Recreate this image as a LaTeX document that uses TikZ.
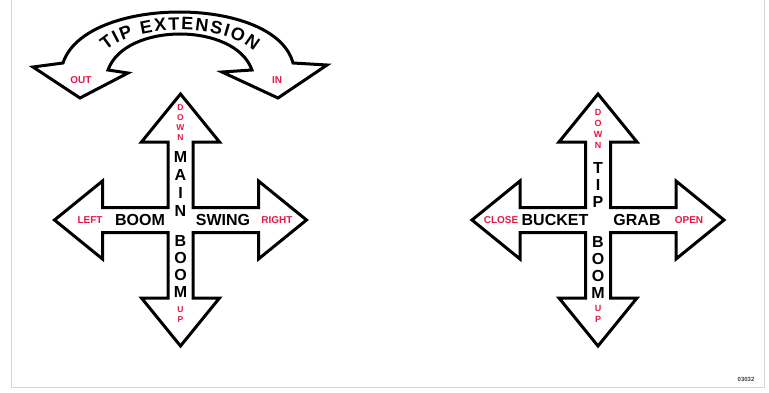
\documentclass[tikz,border=0pt]{standalone}
\usepackage{fontspec}
\setmainfont{Liberation Sans}
\usetikzlibrary{decorations.text}
\definecolor{rossolab}{RGB}{228,24,70}
\definecolor{bordo}{RGB}{215,215,215}

\begin{document}
\begin{tikzpicture}[x=1pt,y=1pt,
        freccia/.style={line width=3pt, line join=miter, miter limit=10, fill=white},
        etirossa/.style={text=rossolab, font=\bfseries\fontsize{10}{12}\selectfont, inner sep=0pt},
        etinera/.style={font=\bfseries\fontsize{16}{18}\selectfont, inner sep=0pt},
        pilarossa/.style={align=center, inner sep=0pt, text=rossolab, font=\bfseries\fontsize{8.5}{10}\selectfont},
        pilanera/.style={align=center, inner sep=0pt, font=\bfseries\fontsize{16}{17}\selectfont}]
        \useasboundingbox (0,0) rectangle (769,392);
        %cornice
        \draw[bordo, line width=0.8pt] (11,392) -- (11,5) -- (764,5) -- (764,392);
        %frecce a croce
        \foreach \cx in {180.5,598}
            \draw[freccia] (\cx,298) --++ (39,-48) --++ (-26.5,0) --++ (0,-65.5) --++ (65.5,0) --++ (0,26.5) --++ (48,-39) --++ (-48,-39) --++ (0,26.5) --++ (-65.5,0) --++ (0,-65.5) --++ (26.5,0) --++ (-39,-48) --++ (-39,48) --++ (26.5,0) --++ (0,65.5) --++ (-65.5,0) --++ (0,-26.5) --++ (-48,39) --++ (48,39) --++ (0,-26.5) --++ (65.5,0) --++ (0,65.5) --++ (-26.5,0) -- cycle;
        %freccia ad arco
        \draw[freccia] (33,325) -- (80,294) -- (128,319) -- (108,322) .. controls (125,370) and (235,370) .. (252,322) -- (222,320) -- (278,294) -- (327,327) -- (293,329) .. controls (275,397) and (85,397) .. (63,329) -- cycle;
        \path[decorate, decoration={text along path, text align=fit to path, text={|\bfseries\fontsize{18}{20}\selectfont|TIP EXTENSION}}] (106,341) .. controls (136,369) and (224,369) .. (254,341);
        \node[etirossa] (out) at (81,312) {OUT};
        \node[etirossa] (in) at (277,312) {IN};
        %croce sinistra
        \node[pilarossa] (giu1) at (180.5,269.5) {D\\O\\W\\N};
        \node[pilanera, font=\bfseries\fontsize{16}{18}\selectfont] (main) at (180.5,208.5) {M\\A\\I\\N};
        \node[pilanera] (boom1) at (180.5,126) {B\\O\\O\\M};
        \node[pilarossa] (su1) at (180.5,77) {U\\P};
        \node[etirossa] (left) at (90,172) {LEFT};
        \node[etinera] (boom2) at (140,172) {BOOM};
        \node[etinera] (swing) at (223,172) {SWING};
        \node[etirossa] (right) at (277,172) {RIGHT};
        %croce destra
        \node[pilarossa, font=\bfseries\fontsize{9}{11}\selectfont] (giu2) at (598,263) {D\\O\\W\\N};
        \node[pilanera] (tip) at (598,207) {T\\I\\P};
        \node[pilanera] (boom3) at (598,125) {B\\O\\O\\M};
        \node[pilarossa, font=\bfseries\fontsize{9}{11}\selectfont] (su2) at (598,78) {U\\P};
        \node[etirossa] (close) at (501,172) {CLOSE};
        \node[etinera] (bucket) at (555,172) {BUCKET};
        \node[etinera] (grab) at (637,172) {GRAB};
        \node[etirossa] (open) at (689,172) {OPEN};
        %codice
        \node[font=\bfseries\fontsize{6}{7}\selectfont, text=black!75, inner sep=0pt] (codice) at (746,13) {03032};
\end{tikzpicture}
\end{document}
